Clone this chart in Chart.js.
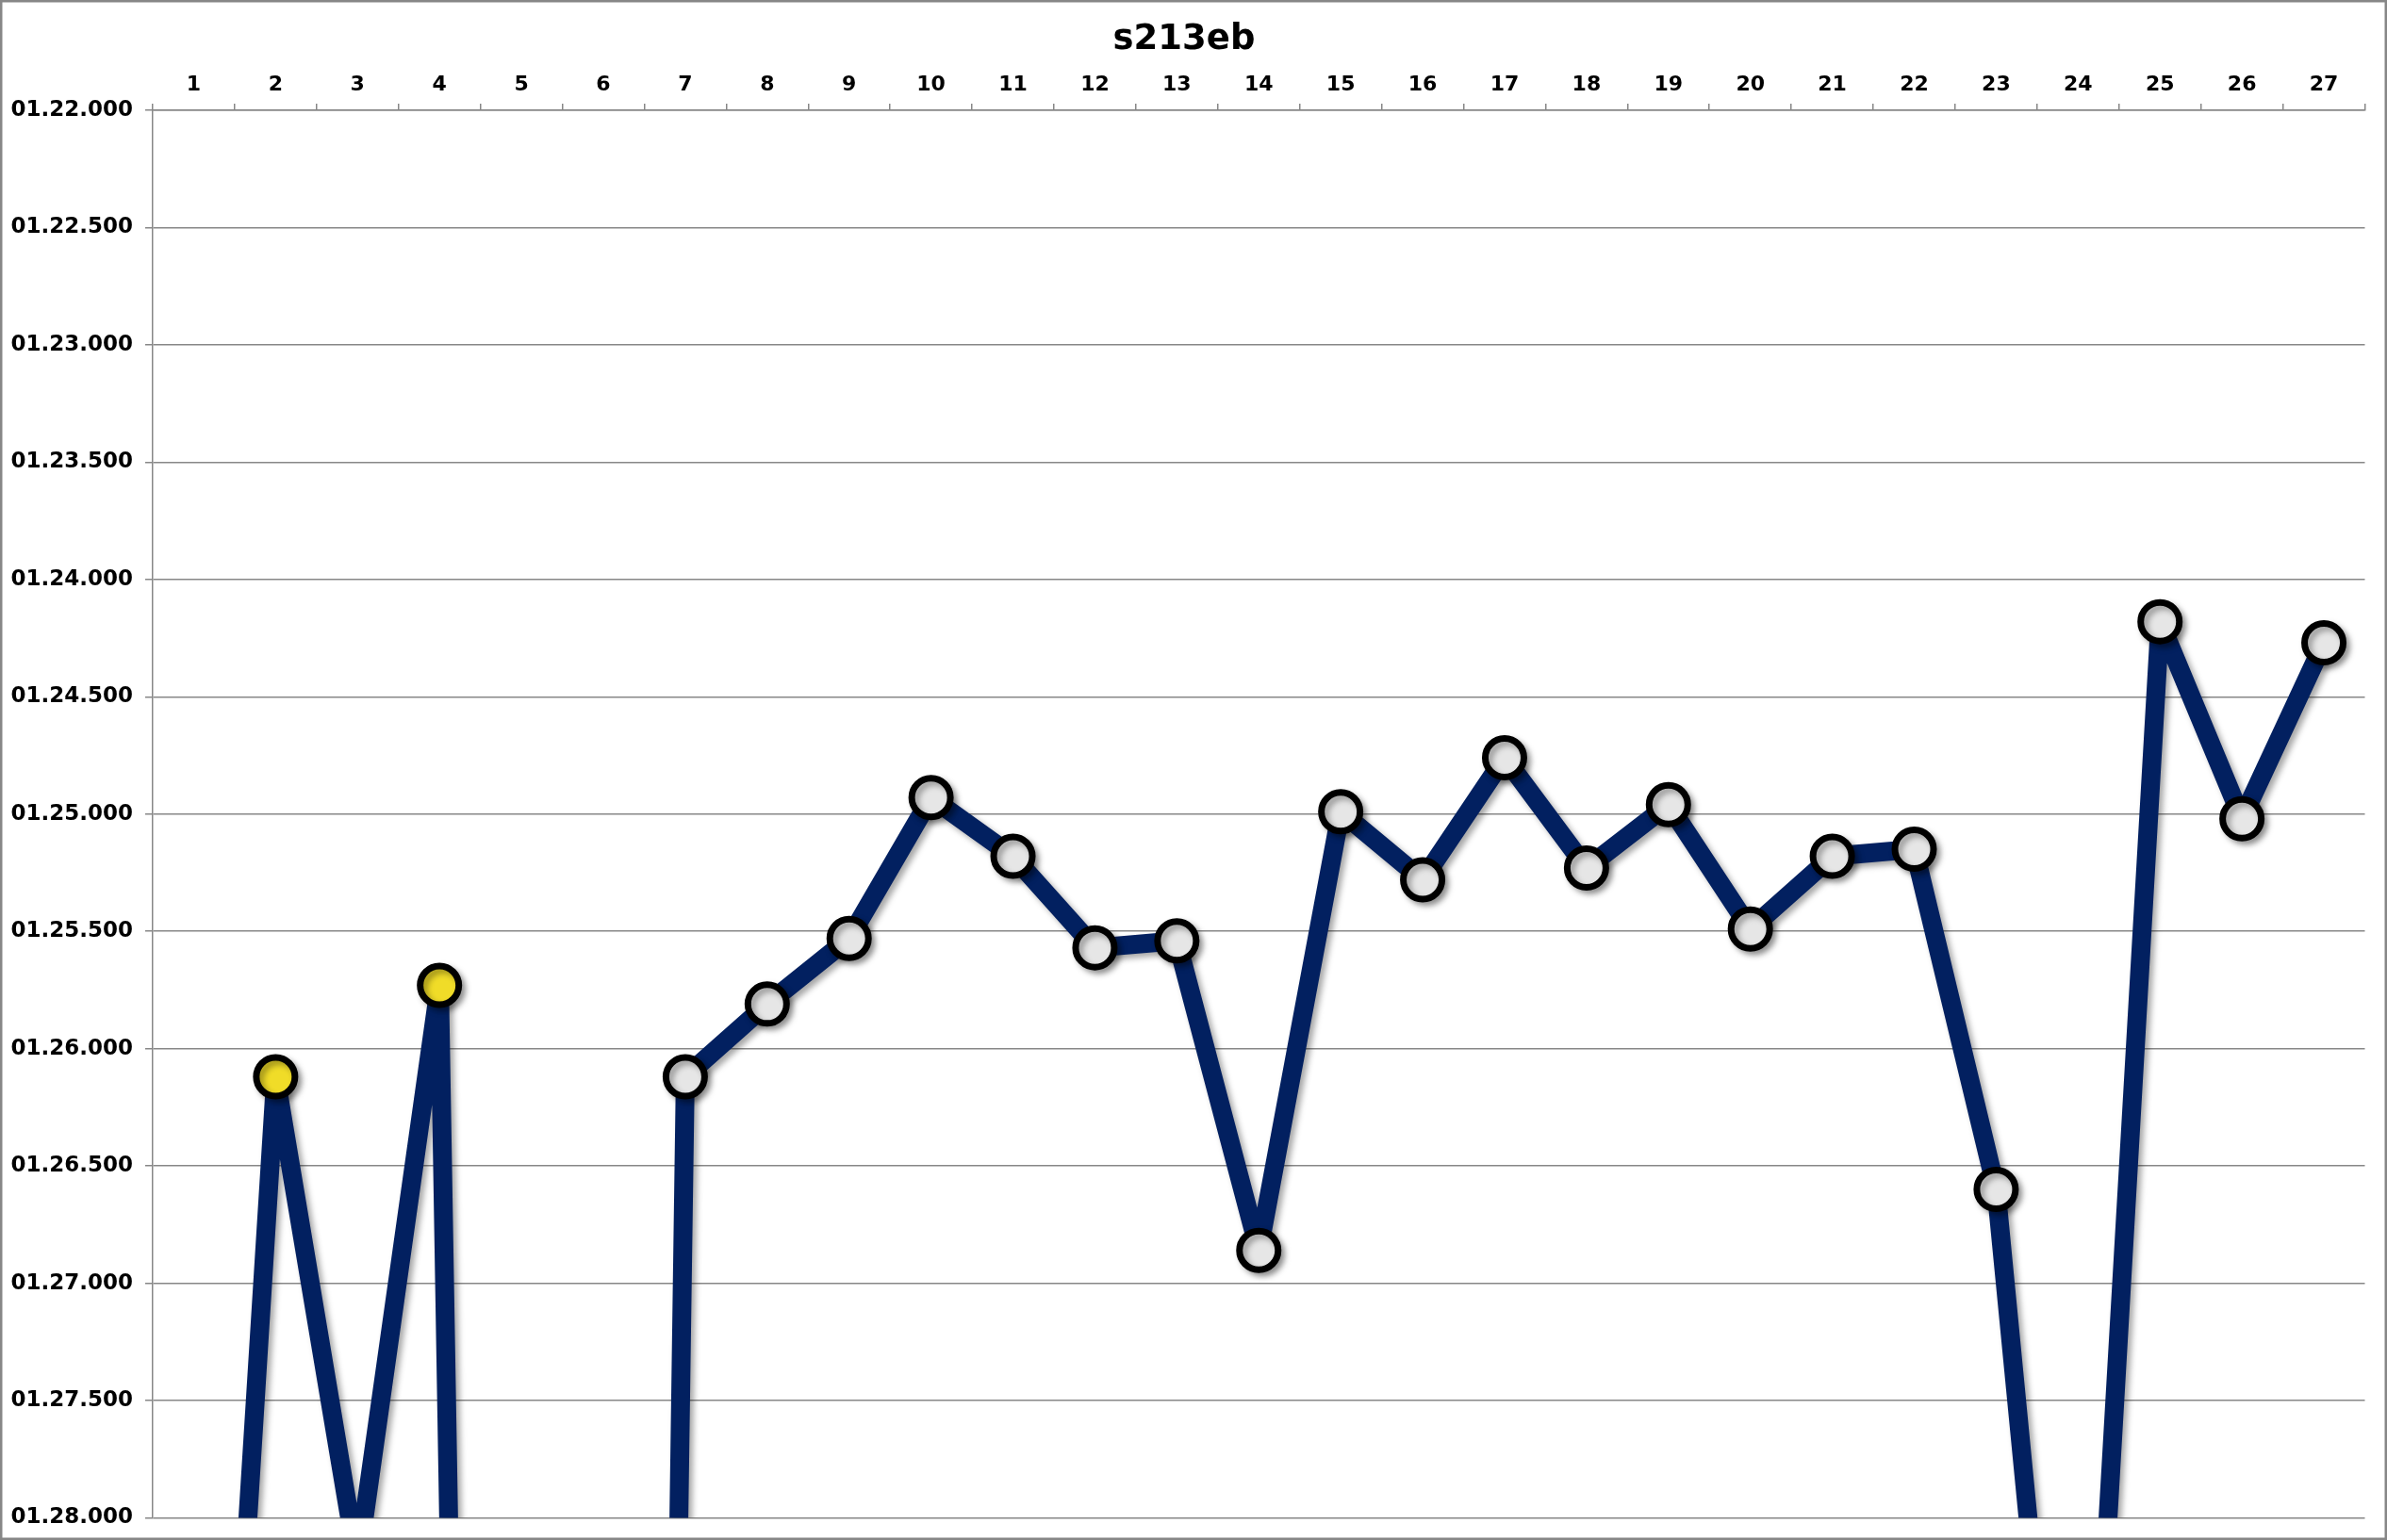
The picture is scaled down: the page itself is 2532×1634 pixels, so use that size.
<!DOCTYPE html>
<html>
<head>
<meta charset="utf-8">
<title>s213eb</title>
<script src="https://cdn.jsdelivr.net/npm/chart.js@4/dist/chart.umd.min.js"></script>
<style>
  html, body { margin: 0; padding: 0; background: #fff; overflow: hidden; }
  #wrap { width: 2532px; height: 1634px; overflow: hidden; position: relative; }
  #lapChart { display: block; }
</style>
</head>
<body>
<div id="wrap">
<canvas id="lapChart" width="2536" height="1638"></canvas>
</div>
<script>
// lap numbers along the top axis
const laps = ["1", "2", "3", "4", "5", "6", "7", "8", "9", "10", "11", "12", "13", "14",
  "15", "16", "17", "18", "19", "20", "21", "22", "23", "24", "25", "26", "27"];

// lap times in seconds (laps 1, 3, 5, 6 and 24 fall below the visible range)
const lapTimes = [91.68, 86.12, 88.20, 85.73, 106.06, 110.26, 86.12, 85.81, 85.53, 84.93,
  85.18, 85.57, 85.54, 86.86, 84.99, 85.28, 84.76, 85.23, 84.96, 85.49,
  85.18, 85.15, 86.60, 90.20, 84.18, 85.02, 84.27];

// laps drawn with a yellow marker
const yellowLaps = ["2", "4"];

// y axis range, seconds (reversed: faster at the top)
const yMin = 82;
const yMax = 88;
const yStep = 0.5;

function formatLapTime(v) {
  const ms = Math.round(v * 1000);
  const min = Math.floor(ms / 60000);
  const sec = Math.floor((ms % 60000) / 1000);
  const rest = ms % 1000;
  return String(min).padStart(2, "0") + "." + String(sec).padStart(2, "0") + "." + String(rest).padStart(3, "0");
}

const GRID = "#878787";
const FONT = "'DejaVu Sans', Verdana, sans-serif";
// visible picture size (canvas is a little bigger, see wrap)
const VIEW_W = 2532;
const VIEW_H = 1634;

// gray frame round the whole picture
const framePlugin = {
  id: "frame",
  beforeDraw(chart) {
    const c = chart.ctx;
    c.save();
    c.fillStyle = "#fff";
    c.fillRect(0, 0, chart.width, chart.height);
    c.restore();
  },
  afterDraw(chart) {
    const c = chart.ctx;
    c.save();
    c.strokeStyle = GRID;
    c.lineWidth = 5;
    c.strokeRect(0, 0, VIEW_W, VIEW_H);
    c.restore();
  },
};

// soft drop shadow under line and markers
const shadowPlugin = {
  id: "shadow",
  beforeDatasetsDraw(chart) {
    const c = chart.ctx;
    c.save();
    c.shadowColor = "rgba(0, 0, 0, 0.35)";
    c.shadowBlur = 6;
    c.shadowOffsetX = 4;
    c.shadowOffsetY = 4;
  },
  afterDatasetsDraw(chart) {
    chart.ctx.restore();
  },
};

const ctx = document.getElementById("lapChart").getContext("2d");

new Chart(ctx, {
  type: "line",
  data: {
    labels: laps,
    datasets: [
      {
        label: "s213eb",
        data: lapTimes,
        borderColor: "#022060",
        borderWidth: 20,
        borderJoinStyle: "round",
        tension: 0,
        clip: 0,
        pointRadius: 20.5,
        pointBorderWidth: 7,
        pointBorderColor: "#000",
        pointBackgroundColor: laps.map((l) => (yellowLaps.includes(l) ? "#F0DC28" : "#E6E6E6")),
        pointHoverRadius: 20.5,
      },
    ],
  },
  options: {
    responsive: false,
    animation: false,
    devicePixelRatio: 1,
    layout: { padding: { left: 0, right: 24, top: 1, bottom: 24 } },
    plugins: {
      legend: { display: false },
      tooltip: { enabled: false },
      title: {
        display: true,
        text: "s213eb",
        color: "#000",
        font: { family: FONT, size: 37, weight: "bold" },
        padding: { top: 19, bottom: 0 },
      },
    },
    scales: {
      x: {
        position: "top",
        offset: true,
        afterFit(scale) {
          scale.height = 52.6;
        },
        grid: {
          offset: true,
          drawOnChartArea: false,
          drawTicks: true,
          tickLength: 7,
          color: GRID,
          lineWidth: 1.5,
        },
        border: { display: true, color: GRID, width: 1.5 },
        ticks: {
          color: "#000",
          padding: 7,
          maxRotation: 0,
          autoSkip: false,
          font: { family: FONT, size: 22, weight: "bold" },
        },
      },
      y: {
        reverse: true,
        min: yMin,
        max: yMax,
        afterFit(scale) {
          scale.width = 162;
        },
        grid: {
          color: GRID,
          lineWidth: 1.5,
          drawTicks: true,
          tickLength: 8,
        },
        border: { display: true, color: GRID, width: 1.5 },
        ticks: {
          stepSize: yStep,
          color: "#000",
          padding: 13,
          font: { family: FONT, size: 23, weight: "bold" },
          callback: (v) => formatLapTime(v),
        },
      },
    },
  },
  plugins: [framePlugin, shadowPlugin],
});
</script>
</body>
</html>
